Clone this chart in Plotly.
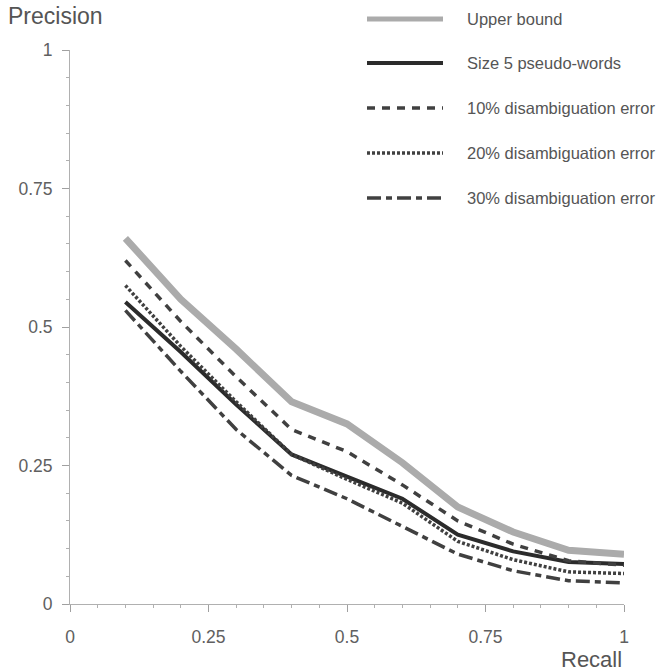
import plotly.graph_objects as go

# Recall levels and precision for each system
recall = [0.1, 0.2, 0.3, 0.4, 0.5, 0.6, 0.7, 0.8, 0.9, 1.0]
upper_bound = [0.66, 0.55, 0.46, 0.365, 0.325, 0.255, 0.175, 0.13, 0.097, 0.09]
size5_pseudo = [0.545, 0.455, 0.36, 0.27, 0.23, 0.19, 0.125, 0.095, 0.076, 0.072]
err10 = [0.62, 0.51, 0.41, 0.315, 0.275, 0.215, 0.15, 0.108, 0.078, 0.07]
err20 = [0.575, 0.465, 0.365, 0.27, 0.225, 0.182, 0.113, 0.08, 0.058, 0.055]
err30 = [0.53, 0.42, 0.315, 0.232, 0.19, 0.14, 0.09, 0.06, 0.042, 0.038]

series_names = ["Upper bound", "Size 5 pseudo-words", "10% disambiguation error",
                "20% disambiguation error", "30% disambiguation error"]
series_values = [upper_bound, size5_pseudo, err10, err20, err30]

tick_vals = [0, 0.25, 0.5, 0.75, 1]
x_tick_text = ["0", "0.25", "0.5", "0.75", "1"]
y_tick_text = ["0", "0.25", "0.5", "0.75", "1"]

styles = [
    dict(color="#ababab", width=7, dash="solid"),
    dict(color="#2b2b2b", width=4, dash="solid"),
    dict(color="#404040", width=3.5, dash="8px,7px"),
    dict(color="#404040", width=3.5, dash="3px,2px"),
    dict(color="#404040", width=3.5, dash="14px,5px,6px,5px"),
]

W, H = 659, 672
L, R, T, B = 70, 35, 50, 68
PW, PH = W - L - R, H - T - B


def px_x(px):
    return (px - L) / PW


def px_y(py):
    return (H - B - py) / PH


FONT = "Liberation Sans, Arial, Helvetica, sans-serif"

fig = go.Figure()
# upper bound first so the other curves sit on top of it
for name, vals, st in zip(series_names, series_values, styles):
    fig.add_trace(go.Scatter(x=recall, y=vals, mode="lines", name=name,
                             line=dict(color=st["color"], width=st["width"], dash=st["dash"]),
                             showlegend=False))

# hand-laid legend: sample line + label per series
leg_y = [19, 63, 108, 153, 198]
shapes = []
annotations = []
for i, (name, st, ly) in enumerate(zip(series_names, styles, leg_y)):
    lw = 5 if i == 0 else st["width"]
    shapes.append(dict(type="line", xref="paper", yref="paper",
                       x0=px_x(367), x1=px_x(443), y0=px_y(ly), y1=px_y(ly),
                       line=dict(color=st["color"], width=lw, dash=st["dash"])))
    annotations.append(dict(text=name, xref="paper", yref="paper",
                            x=px_x(465), y=px_y(ly), xanchor="left", yanchor="middle",
                            showarrow=False, font=dict(family=FONT, size=16.5, color="#555555")))

annotations.append(dict(text="Precision", xref="paper", yref="paper",
                        x=px_x(6), y=px_y(16), xanchor="left", yanchor="middle",
                        showarrow=False, font=dict(family=FONT, size=23, color="#555555")))
annotations.append(dict(text="Recall", xref="paper", yref="paper",
                        x=px_x(624), y=px_y(659), xanchor="right", yanchor="middle",
                        showarrow=False, font=dict(family=FONT, size=22, color="#555555")))

axis_common = dict(
    range=[0, 1], showgrid=False, zeroline=False, showline=True,
    linecolor="#b0b0b0", linewidth=1, ticks="outside", ticklen=7,
    tickcolor="#a0a0a0", tickwidth=1, tickvals=tick_vals,
    tickfont=dict(family=FONT, size=17.5, color="#606060"),
    minor=dict(dtick=0.05, ticks="outside", ticklen=3, tickcolor="#b0b0b0", tickwidth=1),
)

fig.update_layout(
    width=W, height=H,
    margin=dict(l=L, r=R, t=T, b=B),
    paper_bgcolor="white", plot_bgcolor="white",
    xaxis=dict(**axis_common, ticktext=x_tick_text, ticklabelstandoff=10),
    yaxis=dict(**axis_common, ticktext=y_tick_text, ticklabelstandoff=6),
    shapes=shapes,
    annotations=annotations,
    showlegend=False,
)

fig.write_html("out.html")
